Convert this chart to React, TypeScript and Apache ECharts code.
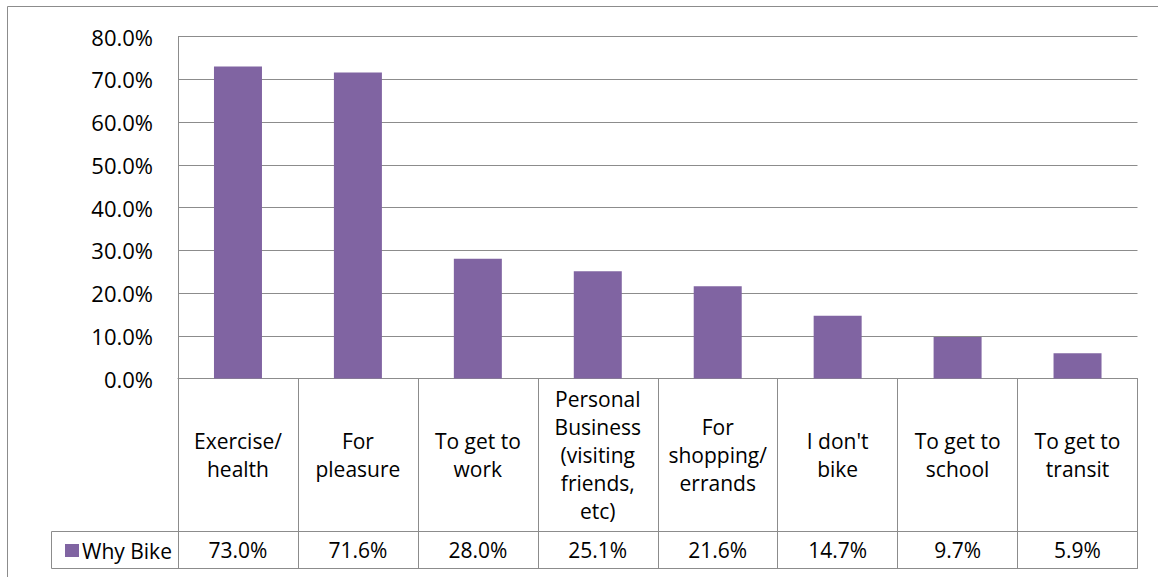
import React, { useEffect, useRef } from "react";
import * as echarts from "echarts";

const categories: string[] = [
  "Exercise/\nhealth",
  "For\npleasure",
  "To get to\nwork",
  "Personal\nBusiness\n(visiting\nfriends,\netc)",
  "For\nshopping/\nerrands",
  "I don't\nbike",
  "To get to\nschool",
  "To get to\ntransit",
];
const whyBike: number[] = [0.73, 0.716, 0.28, 0.251, 0.216, 0.147, 0.097, 0.059];
const seriesName = "Why Bike";

const GRAY = "#8c8c8c";
const FONT = "'Open Sans', 'Noto Sans', sans-serif";
const TEXT = "#000000";

export default function App() {
  const ref = useRef<HTMLDivElement>(null);
  useEffect(() => {
    if (!ref.current) return;
    const chart = echarts.init(ref.current, undefined, { renderer: "svg" });
    const pct = (v: number) => (v * 100).toFixed(1) + "%";
    chart.setOption({
      animation: false,
      textStyle: { fontFamily: FONT, color: TEXT },
      grid: { left: 178, right: 20.5, top: 36.5, bottom: 198.5, containLabel: false },
      legend: {
        data: [{ name: seriesName, icon: "rect" }],
        left: 60,
        top: 535,
        itemWidth: 14,
        itemHeight: 13,
        itemGap: 0,
        textStyle: { fontSize: 21, color: TEXT, fontFamily: FONT, padding: [0, 0, 0, -2] },
        selectedMode: false,
      },
      xAxis: [
        {
          type: "category",
          data: categories,
          position: "bottom",
          axisLine: { show: true, lineStyle: { color: GRAY, width: 1 } },
          axisTick: { show: true, interval: 0, length: 153, lineStyle: { color: GRAY, width: 1 } },
          axisLabel: {
            interval: 0,
            margin: 76.5,
            verticalAlign: "middle",
            lineHeight: 28,
            fontSize: 21,
            color: TEXT,
            fontFamily: FONT,
          },
          splitLine: { show: false },
        },
        {
          type: "category",
          data: whyBike.map(pct),
          position: "bottom",
          offset: 153,
          axisLine: { show: true, lineStyle: { color: GRAY, width: 1 } },
          axisTick: { show: true, interval: 0, length: 37, lineStyle: { color: GRAY, width: 1 } },
          axisLabel: {
            interval: 0,
            margin: 18.5,
            verticalAlign: "middle",
            fontSize: 21,
            color: TEXT,
            fontFamily: FONT,
          },
        },
        {
          type: "category",
          data: whyBike.map(pct),
          position: "bottom",
          offset: 190,
          axisLine: { show: true, lineStyle: { color: GRAY, width: 1 } },
          axisTick: { show: false },
          axisLabel: { show: false },
        },
      ],
      yAxis: {
        type: "value",
        min: 0,
        max: 0.8,
        interval: 0.1,
        axisLine: { show: true, lineStyle: { color: GRAY, width: 1 } },
        axisTick: { show: false },
        axisLabel: {
          formatter: (v: number) => pct(v),
          fontSize: 22,
          margin: 25,
          color: TEXT,
          fontFamily: FONT,
        },
        splitLine: { show: true, lineStyle: { color: GRAY, width: 1 } },
      },
      series: [
        {
          name: seriesName,
          type: "bar",
          data: whyBike,
          xAxisIndex: 0,
          barWidth: 48,
          itemStyle: { color: "#8064A2" },
        },
      ],
      graphic: [
        {
          type: "rect",
          shape: { x: 7.5, y: 6.5, width: 1300, height: 700 },
          style: { fill: "none", stroke: GRAY, lineWidth: 1 },
          silent: true,
        },
        {
          type: "polyline",
          shape: { points: [[178, 531.5], [51.5, 531.5], [51.5, 568.5], [178, 568.5]] },
          style: { fill: "none", stroke: GRAY, lineWidth: 1 },
          silent: true,
        },
      ],
    });
    return () => chart.dispose();
  }, []);
  return (
    <div
      ref={ref}
      style={{ position: "fixed", left: 0, top: 0, width: 1158, height: 577, background: "#fff" }}
    />
  );
}
